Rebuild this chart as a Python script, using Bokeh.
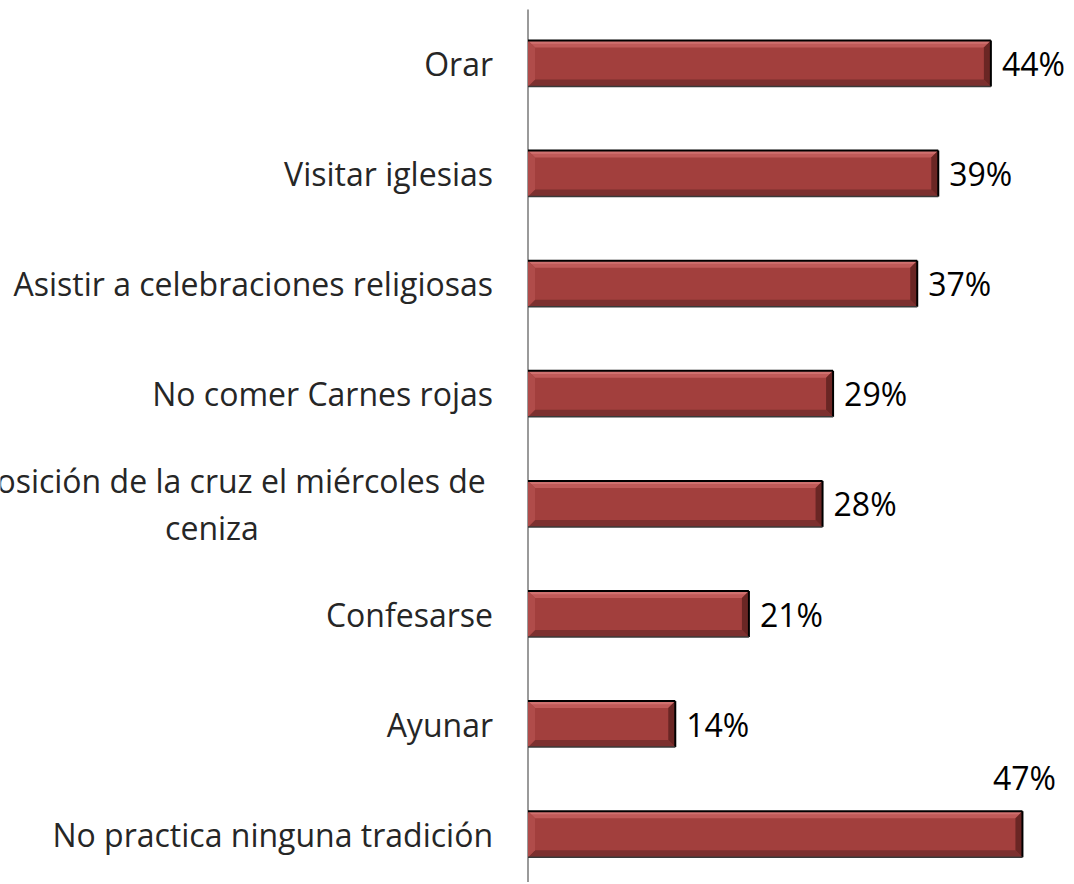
from bokeh.plotting import figure
from bokeh.models import Range1d, ColumnDataSource
from bokeh.core.properties import value
from bokeh.embed import file_html
from bokeh.resources import INLINE

# ---- data ----
categories = [
    "Orar",
    "Visitar iglesias",
    "Asistir a celebraciones religiosas",
    "No comer Carnes rojas",
    "Imposición de la cruz el miércoles de\nceniza",
    "Confesarse",
    "Ayunar",
    "No practica ninguna tradición",
]
values = [44, 39, 37, 29, 28, 21, 14, 47]
value_labels = ["44%", "39%", "37%", "29%", "28%", "21%", "14%", "47%"]

# ---- layout constants ----
W, H = 1072, 882
PX_PER_X = 10.52          # px per percentage point
ZERO_PX = 527.5           # frame px of x = 0
PX_PER_Y = 110.1          # px per category slot
TOP_CENTER_PX = 63        # frame px of first category centre
BAR_H = 46 / PX_PER_Y

n = len(categories)
pos = [n - 1 - i for i in range(n)]
y_top = (n - 1) + TOP_CENTER_PX / PX_PER_Y
y_bot = y_top - H / PX_PER_Y

p = figure(width=W, height=H, output_backend="svg", toolbar_location=None,
           x_range=Range1d(-ZERO_PX / PX_PER_X, (W - ZERO_PX) / PX_PER_X),
           y_range=Range1d(y_bot, y_top), min_border=0)
p.axis.visible = False
p.grid.visible = False
p.outline_line_color = None
p.background_fill_color = "white"

# vertical axis line
p.segment(x0=[0], x1=[0], y0=[y_top - 9 / PX_PER_Y], y1=[y_bot], line_color="#9a9a9a", line_width=2)

# ---- bars with bevel ----
bx = 7 / PX_PER_X
by = 7 / PX_PER_Y
MAIN = "#a23f3d"
src = ColumnDataSource(dict(y=pos, right=values, lab=value_labels, cat=categories))

p.hbar(y="y", left=0, right="right", height=BAR_H, source=src,
       fill_color=MAIN, line_color=None)

top_xs, top_ys, bot_xs, bot_ys, r_xs, r_ys, l_xs, l_ys = [], [], [], [], [], [], [], []
hl_xs, hl_ys = [], []
for yc, v in zip(pos, values):
    t = yc + BAR_H / 2
    b = yc - BAR_H / 2
    top_xs.append([0, v, v - bx, bx]); top_ys.append([t, t, t - by, t - by])
    hl_xs.append([0, v, v - bx * 0.45, bx * 0.45]); hl_ys.append([t, t, t - by * 0.45, t - by * 0.45])
    bot_xs.append([0, v, v - bx, bx]); bot_ys.append([b, b, b + by, b + by])
    r_xs.append([v, v, v - bx, v - bx]); r_ys.append([t, b, b + by, t - by])
    l_xs.append([0, 0, bx, bx]); l_ys.append([t, b, b + by, t - by])

p.patches(xs=top_xs, ys=top_ys, fill_color="#c05a58", line_color=None)
p.patches(xs=hl_xs, ys=hl_ys, fill_color="#d0716f", line_color=None)
p.patches(xs=bot_xs, ys=bot_ys, fill_color="#7c302f", line_color=None)
p.patches(xs=l_xs, ys=l_ys, fill_color="#b04c4a", line_color=None)
p.patches(xs=r_xs, ys=r_ys, fill_color="#6a2624", line_color=None)

# outer edges: black top & right, dark bottom
p.segment(x0=[0] * n, x1=values, y0=[y + BAR_H / 2 for y in pos], y1=[y + BAR_H / 2 for y in pos],
          line_color="black", line_width=2)
p.segment(x0=values, x1=values, y0=[y + BAR_H / 2 for y in pos], y1=[y - BAR_H / 2 for y in pos],
          line_color="black", line_width=2)
p.segment(x0=[0] * n, x1=values, y0=[y - BAR_H / 2 for y in pos], y1=[y - BAR_H / 2 for y in pos],
          line_color="#3a3a3a", line_width=1.5)

# ---- category labels ----
single = [c for c in categories if "\n" not in c]
multi = [c for c in categories if "\n" in c]
sy = [pos[categories.index(c)] for c in single]
my = [pos[categories.index(c)] for c in multi]
p.text(x=[0] * len(single), y=sy, text=single, x_offset=-35, text_align="right",
       text_baseline="middle", text_font=value("Open Sans"), text_font_size="32px",
       text_color="#262626")
p.text(x=[0] * len(multi), y=my, text=multi, x_offset=-316, text_align="center",
       text_baseline="middle", text_font=value("Open Sans"), text_font_size="32px",
       text_color="#262626", text_line_height=1.08)

# ---- value labels ----
LABEL_W = 63
GAP = 11
in_x, in_y, in_t, up_x, up_y, up_t = [], [], [], [], [], []
for yc, v, lab in zip(pos, values, value_labels):
    right_px = ZERO_PX + v * PX_PER_X + GAP + LABEL_W
    if right_px > W:
        up_x.append(v + 2 / PX_PER_X); up_y.append(yc + BAR_H / 2 + 12 / PX_PER_Y); up_t.append(lab)
    else:
        in_x.append(v + GAP / PX_PER_X); in_y.append(yc); in_t.append(lab)
p.text(x=in_x, y=in_y, text=in_t, text_align="left", text_baseline="middle",
       text_font=value("Open Sans"), text_font_size="32px", text_color="black")
p.text(x=up_x, y=up_y, text=up_t, text_align="center", text_baseline="bottom",
       text_font=value("Open Sans"), text_font_size="32px", text_color="black")

open("out.html", "w").write(file_html(p, INLINE))
